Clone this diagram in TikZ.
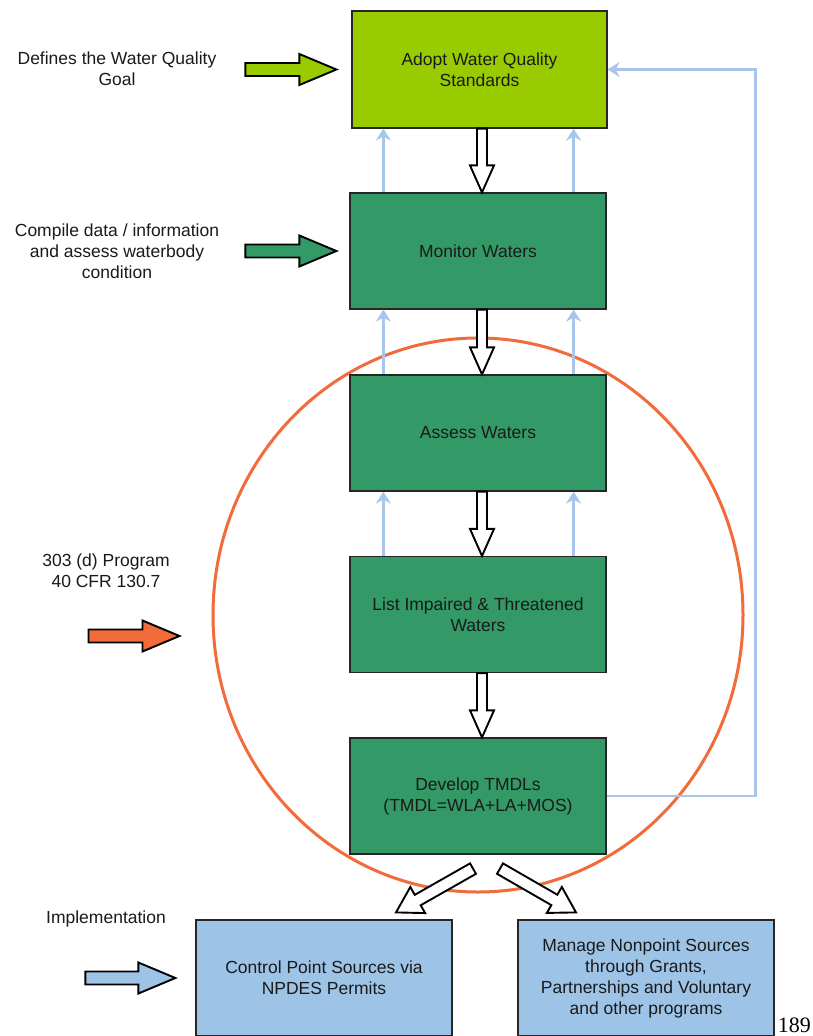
\documentclass[tikz,border=0pt]{standalone}
\usepackage{fontspec}
\setmainfont{Liberation Sans}
\newfontfamily\pagefont{Liberation Serif}
\usetikzlibrary{calc,arrows.meta,shapes.geometric}
\definecolor{wqLime}{HTML}{99CC00}
\definecolor{wqGreen}{HTML}{339966}
\definecolor{wqBlue}{HTML}{9DC3E6}
\definecolor{wqOrange}{HTML}{F26B3A}
\definecolor{fbBlue}{HTML}{A8C6EA}
\definecolor{wqText}{HTML}{1A1A1A}
\newcommand\blockarrow[6]{%
  \path (#1) coordinate (baa) (#2) coordinate (bab);
  \path ($(bab)!#5!(baa)$) coordinate (bac);
  \draw[#6] ($(baa)!#3!90:(bab)$) -- ($(bac)!#3!90:(bab)$) -- ($(bac)!#4!90:(bab)$) -- (bab)
    -- ($(bac)!#4!-90:(bab)$) -- ($(bac)!#3!-90:(bab)$) -- ($(baa)!#3!-90:(bab)$) -- cycle;
}
\tikzset{
  box/.style={draw=black!85, line width=1.2pt, minimum width=256pt, minimum height=116pt,
    align=center, text=wqText, font=\fontsize{17.5}{21}\selectfont, inner sep=0pt},
  adoptbox/.style={box, fill=wqLime, minimum width=255pt, minimum height=117pt},
  greenbox/.style={box, fill=wqGreen},
  bluebox/.style={box, fill=wqBlue},
  lbl/.style={align=center, text=wqText, font=\fontsize{17.5}{21}\selectfont, inner sep=0pt},
  fb/.style={draw=fbBlue, line width=2.4pt, -{Stealth[length=12pt,width=15pt,inset=4pt]}},
  hollow/.style={draw=black, fill=white, line width=1.9pt, line join=miter},
  solidarrow/.style={draw=black, line width=1.9pt, line join=miter, fill=#1},
}
\begin{document}
\begin{tikzpicture}[x=1pt,y=-1pt]
\useasboundingbox (0,0) rectangle (812,1036);
\clip (0,0) rectangle (812,1036);
\fill[white] (0,0) rectangle (812,1036);

% ring
\node[draw=wqOrange, line width=3pt, ellipse, minimum width=530pt, minimum height=554pt, inner sep=0pt] (ring) at (478,615) {};

% boxes
\node[adoptbox] (adopt) at (479.5,69.5) {Adopt Water Quality\\Standards};
\node[greenbox] (monitor) at (478,251) {Monitor Waters};
\node[greenbox] (assess) at (478,433) {Assess Waters};
\node[greenbox] (list) at (478,614.5) {List Impaired \& Threatened\\Waters};
\node[greenbox] (develop) at (478,796) {Develop TMDLs\\(TMDL=WLA+LA+MOS)};
\node[bluebox] (control) at (324,978) {Control Point Sources via\\NPDES Permits};
\node[bluebox] (manage) at (646,978) {Manage Nonpoint Sources\\through Grants,\\Partnerships and Voluntary\\and other programs};

% left labels
\node[lbl] (lgoal) at (117,69) {Defines the Water Quality\\Goal};
\node[lbl] (lcomp) at (117,251) {Compile data / information\\and assess waterbody\\condition};
\node[lbl] (lprog) at (106,571) {303 (d) Program\\40 CFR 130.7};
\node[lbl] (limpl) at (106,919) {Implementation};
\node[font=\pagefont\fontsize{22}{25}\selectfont, inner sep=0pt, anchor=east] (pnum) at (811,1025) {189};

% light blue feedback arrows
\path ([xshift=34pt]monitor.north west) coordinate (u1) ([xshift=-33pt]monitor.north east) coordinate (u2);
\draw[fb] (u1) -- (u1 |- adopt.south);
\draw[fb] (u2) -- (u2 |- adopt.south);
\path ([xshift=34pt]assess.north west) coordinate (u3) ([xshift=-33pt]assess.north east) coordinate (u4);
\draw[fb] (u3) -- (u3 |- monitor.south);
\draw[fb] (u4) -- (u4 |- monitor.south);
\path ([xshift=34pt]list.north west) coordinate (u5) ([xshift=-33pt]list.north east) coordinate (u6);
\draw[fb] (u5) -- (u5 |- assess.south);
\draw[fb] (u6) -- (u6 |- assess.south);
\draw[fb] (develop.east) -- ++(149,0) |- (adopt.east);

% hollow down arrows
\blockarrow{[xshift=2.5pt]adopt.south}{[xshift=4pt]monitor.north}{5pt}{12pt}{27pt}{hollow}
\blockarrow{[xshift=4pt]monitor.south}{[xshift=4pt]assess.north}{5pt}{12pt}{27pt}{hollow}
\blockarrow{[xshift=4pt]assess.south}{[xshift=4pt]list.north}{5pt}{12pt}{27pt}{hollow}
\blockarrow{[xshift=4pt]list.south}{[xshift=4pt]develop.north}{5pt}{12pt}{27pt}{hollow}

% diagonal arrows
\blockarrow{[shift={(-5,14)}]develop.south}{[shift={(72,-7)}]control.north}{6pt}{15pt}{25pt}{hollow}
\blockarrow{[shift={(22,14)}]develop.south}{[shift={(-70,-7)}]manage.north}{6pt}{15pt}{25pt}{hollow}

% input arrows
\blockarrow{[xshift=-106pt]adopt.west}{[xshift=-15pt]adopt.west}{6.5pt}{15.5pt}{37pt}{solidarrow=wqLime}
\blockarrow{[xshift=-104pt]monitor.west}{[xshift=-13pt]monitor.west}{6.5pt}{15.5pt}{37pt}{solidarrow=wqGreen}
\blockarrow{[shift={(-123,21)}]ring.west}{[shift={(-32,21)}]ring.west}{6.5pt}{15.5pt}{37pt}{solidarrow=wqOrange}
\blockarrow{[xshift=-110pt]control.west}{[xshift=-20pt]control.west}{6.5pt}{15.5pt}{37pt}{solidarrow=wqBlue}
\end{tikzpicture}
\end{document}
